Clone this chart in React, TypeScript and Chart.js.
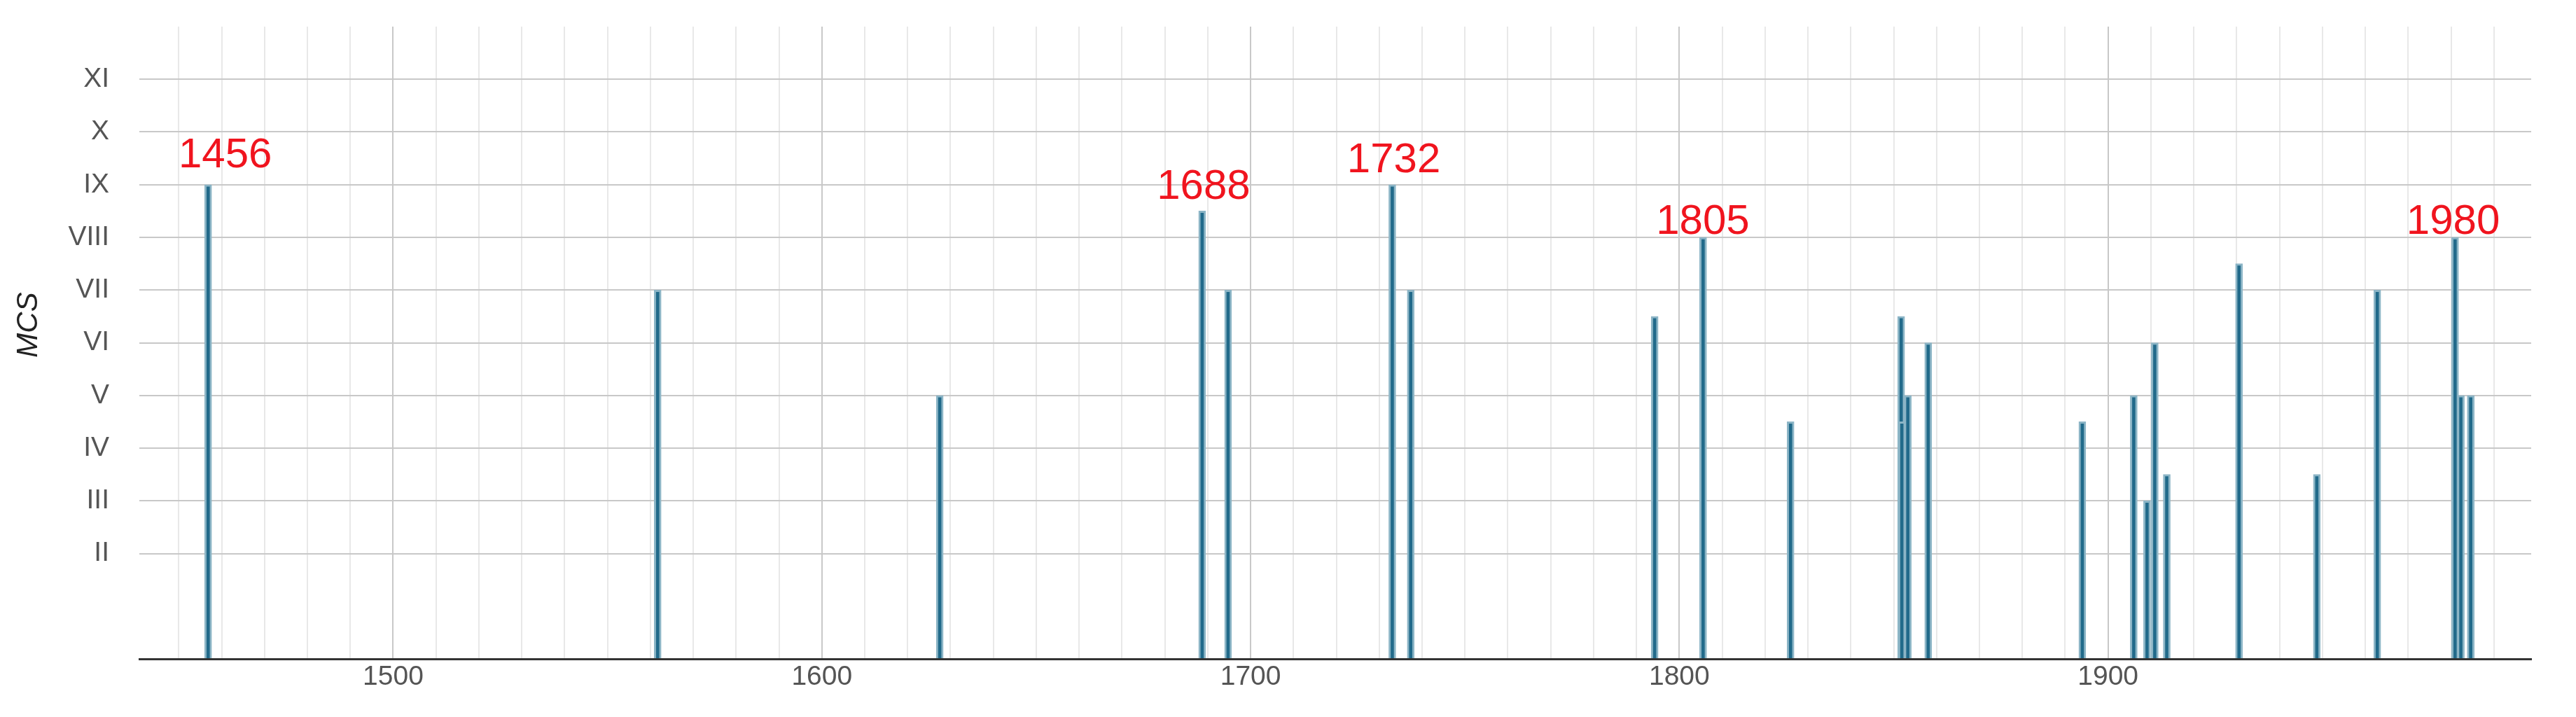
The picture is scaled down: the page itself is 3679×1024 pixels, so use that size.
import React, { useEffect, useRef } from 'react';
import { Chart, registerables } from 'chart.js';

Chart.register(...registerables);

// Event dates (decimal years) and their intensity (MCS degrees)
const eventYears = [
  1456.85, 1561.7, 1627.5, 1688.7, 1694.75, 1733.05, 1737.35, 1794.25, 1805.55,
  1825.95, 1851.75, 1851.9, 1853.3, 1858.05, 1894.0, 1906.0, 1909.1, 1910.9,
  1913.7, 1930.55, 1948.7, 1962.8, 1980.95, 1982.3, 1984.6,
];
const intensities = [
  9, 7, 5, 8.5, 7, 9, 7, 6.5, 8,
  4.5, 6.5, 4.5, 5, 6, 4.5, 5, 3, 6,
  3.5, 7.5, 3.5, 7, 8, 5, 5,
];

// Y axis tick labels (roman numerals)
const yTickValues = [2, 3, 4, 5, 6, 7, 8, 9, 10, 11];
const yTickLabels = ['II', 'III', 'IV', 'V', 'VI', 'VII', 'VIII', 'IX', 'X', 'XI'];

// X axis labelled (major) ticks
const xMajorTicks = [1500, 1600, 1700, 1800, 1900];

// Red annotations: text, anchor year, anchor level (baseline)
const labelTexts = ['1456', '1688', '1732', '1805', '1980'];
const labelYears = [1460.84, 1689.04, 1733.4, 1805.48, 1980.5];
const labelLevels = [9.33, 8.73, 9.24, 8.07, 8.07];

const X_MIN = 1440.8;
const X_MAX = 1998.7;

const annotationPlugin = {
  id: 'redAnnotations',
  afterDatasetsDraw(chart: any) {
    const { ctx, scales } = chart;
    const x = scales.x;
    const y = scales.y;
    ctx.save();
    ctx.fillStyle = '#f0141e';
    ctx.font = '60px "Liberation Sans", Arial, sans-serif';
    ctx.textAlign = 'center';
    ctx.textBaseline = 'alphabetic';
    labelTexts.forEach((t, i) => {
      ctx.fillText(t, x.getPixelForValue(labelYears[i]), y.getPixelForValue(labelLevels[i]));
    });
    ctx.restore();

    ctx.save();
    ctx.translate(33, 456);
    ctx.rotate(-Math.PI / 2);
    ctx.font = 'italic 42px "Liberation Sans", Arial, sans-serif';
    ctx.fillStyle = '#222222';
    ctx.textAlign = 'center';
    ctx.textBaseline = 'middle';
    ctx.fillText('MCS', 0, 0);
    ctx.restore();
  },
};

export default function App() {
  const canvasRef = useRef<HTMLCanvasElement | null>(null);

  useEffect(() => {
    if (!canvasRef.current) return;
    const chart = new Chart(canvasRef.current, {
      type: 'bar',
      data: {
        datasets: [
          {
            data: eventYears.map((yr, i) => ({ x: yr, y: intensities[i] })),
            backgroundColor: '#216a8a',
            borderColor: '#8cb5c6',
            borderWidth: 3,
            barThickness: 10,
            borderSkipped: 'start',
          } as any,
        ],
      },
      options: {
        responsive: false,
        animation: false,
        devicePixelRatio: 1,
        layout: { padding: { top: 30, right: 56, bottom: 0, left: 0 } },
        plugins: {
          legend: { display: false },
          tooltip: { enabled: false },
        },
        scales: {
          x: {
            type: 'linear',
            min: X_MIN,
            max: X_MAX,
            offset: false,
            afterBuildTicks: (scale: any) => {
              const ticks: any[] = [];
              for (let v = Math.ceil(X_MIN / 10) * 10; v <= X_MAX; v += 10) ticks.push({ value: v });
              scale.ticks = ticks;
            },
            afterFit: (scale: any) => {
              scale.height = 75;
              scale.paddingLeft = 0;
              scale.paddingRight = 0;
            },
            grid: {
              offset: false,
              drawTicks: false,
              lineWidth: 2,
              color: (ctx: any) =>
                ctx.tick && xMajorTicks.includes(ctx.tick.value) ? '#c8c8c8' : '#e8e8e8',
            },
            border: { display: true, color: '#333333', width: 3 },
            ticks: {
              autoSkip: false,
              maxRotation: 0,
              minRotation: 0,
              padding: 3,
              color: '#555555',
              font: { family: '"Liberation Sans", Arial, sans-serif', size: 39 },
              callback: (v: any) => (xMajorTicks.includes(Number(v)) ? String(v) : ''),
            },
          },
          y: {
            type: 'linear',
            min: 0,
            max: 12,
            afterBuildTicks: (scale: any) => {
              const ticks: any[] = [];
              for (let v = 0; v <= 12; v += 1) ticks.push({ value: v });
              scale.ticks = ticks;
            },
            afterFit: (scale: any) => {
              scale.width = 191;
              scale.paddingTop = 0;
              scale.paddingBottom = 0;
            },
            grid: {
              drawTicks: false,
              lineWidth: 2,
              color: (ctx: any) =>
                ctx.tick && yTickValues.includes(ctx.tick.value) ? '#c8c8c8' : 'rgba(0,0,0,0)',
            },
            border: { display: false },
            ticks: {
              padding: 43,
              color: '#555555',
              font: { family: '"Liberation Sans", Arial, sans-serif', size: 39 },
              callback: (v: any) => {
                const idx = yTickValues.indexOf(Number(v));
                return idx >= 0 ? yTickLabels[idx] : '';
              },
            },
          },
        },
      } as any,
      plugins: [annotationPlugin],
    });
    return () => chart.destroy();
  }, []);

  return (
    <div style={{ width: 3663, height: 1008 }}>
      <canvas ref={canvasRef} width={3663} height={1008} style={{ display: 'block' }} />
    </div>
  );
}
